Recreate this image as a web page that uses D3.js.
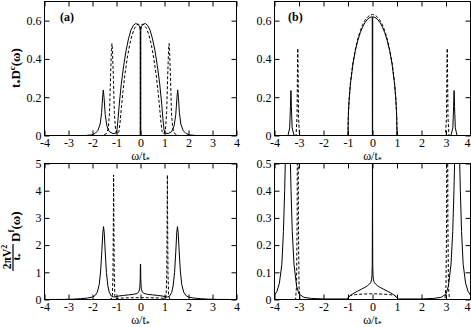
<!DOCTYPE html>
<html>
<head>
<meta charset="utf-8">
<script src="https://cdn.jsdelivr.net/npm/d3@7"></script>
<style>
body{margin:0;background:#fff;}
svg{display:block;font-family:"Liberation Serif","Times New Roman",serif;}
.tick line{stroke:#000;}
</style>
</head>
<body>
<div id="chart"></div>
<script>
// tick values / labels
var xTicks = [-4,-3,-2,-1,0,1,2,3,4];
var xTickLabels = ["-4","-3","-2","-1","0","1","2","3","4"];
var yTicksC = [0,0.2,0.4,0.6];
var yTicksCLabels = ["0","0.2","0.4","0.6"];
var yTicksF = [0,1,2,3,4,5];
var yTicksFLabels = ["0","1","2","3","4","5"];
var yTicksFz = [0,0.1,0.2,0.3,0.4,0.5];
var yTicksFzLabels = ["0","0.1","0.2","0.3","0.4","0.5"];

// (a) c-electron spectral function  [omega/t*, value]
var aSolidC = [[-4,0],[-2.3,0],[-2.05,0.003],[-1.9,0.01],[-1.78,0.025],[-1.68,0.06],[-1.62,0.12],[-1.58,0.2],[-1.55,0.238],[-1.52,0.2],[-1.47,0.11],[-1.4,0.05],[-1.3,0.02],[-1.15,0.01],[-1.03,0.012],[-0.98,0.03],[-0.94,0.08],[-0.88,0.17],[-0.8,0.27],[-0.7,0.365],[-0.6,0.445],[-0.5,0.505],[-0.4,0.55],[-0.3,0.575],[-0.2,0.585],[-0.1,0.58],[-0.04,0.57],[-0.01,0.55],[-0.01,0],
  [0.01,0],[0.01,0.55],[0.04,0.57],[0.1,0.58],[0.2,0.585],[0.3,0.575],[0.4,0.55],[0.5,0.505],[0.6,0.445],[0.7,0.365],[0.8,0.27],[0.88,0.17],[0.94,0.08],[0.98,0.03],[1.03,0.012],[1.15,0.01],[1.3,0.02],[1.4,0.05],[1.47,0.11],[1.52,0.2],[1.55,0.238],[1.58,0.2],[1.62,0.12],[1.68,0.06],[1.78,0.025],[1.9,0.01],[2.05,0.003],[2.3,0],[4,0]];
var aDashC = [[-4,0],[-1.6,0],[-1.42,0.01],[-1.34,0.04],[-1.29,0.12],[-1.25,0.3],[-1.21,0.45],[-1.19,0.48],[-1.17,0.45],[-1.13,0.3],[-1.09,0.12],[-1.04,0.03],[-0.97,0.008],[-0.9,0.02],[-0.85,0.07],[-0.8,0.14],[-0.73,0.23],[-0.65,0.32],[-0.55,0.405],[-0.45,0.475],[-0.35,0.525],[-0.25,0.56],[-0.15,0.578],[-0.08,0.582],[-0.03,0.575],[-0.005,0.56],[-0.005,0],
  [0.005,0],[0.005,0.56],[0.03,0.575],[0.08,0.582],[0.15,0.578],[0.25,0.56],[0.35,0.525],[0.45,0.475],[0.55,0.405],[0.65,0.32],[0.73,0.23],[0.8,0.14],[0.85,0.07],[0.9,0.02],[0.97,0.008],[1.04,0.03],[1.09,0.12],[1.13,0.3],[1.17,0.45],[1.19,0.48],[1.21,0.45],[1.25,0.3],[1.29,0.12],[1.34,0.04],[1.42,0.01],[1.6,0],[4,0]];

// (a) f-electron spectral function
var aSolidF = [[-4,0],[-3.2,0.003],[-2.8,0.012],[-2.5,0.03],[-2.2,0.055],[-2.0,0.09],[-1.9,0.14],[-1.8,0.27],[-1.72,0.55],[-1.66,1.05],[-1.61,1.8],[-1.57,2.45],[-1.54,2.68],[-1.51,2.45],[-1.47,1.75],[-1.42,1.0],[-1.36,0.5],[-1.3,0.26],[-1.22,0.13],[-1.12,0.09],[-1.02,0.1],[-0.9,0.13],[-0.7,0.15],[-0.5,0.17],[-0.3,0.19],[-0.15,0.22],[-0.07,0.28],[-0.03,0.42],[-0.012,0.75],[-0.004,1.3],
  [0.004,1.3],[0.012,0.75],[0.03,0.42],[0.07,0.28],[0.15,0.22],[0.3,0.19],[0.5,0.17],[0.7,0.15],[0.9,0.13],[1.02,0.1],[1.12,0.09],[1.22,0.13],[1.3,0.26],[1.36,0.5],[1.42,1.0],[1.47,1.75],[1.51,2.45],[1.54,2.68],[1.57,2.45],[1.61,1.8],[1.66,1.05],[1.72,0.55],[1.8,0.27],[1.9,0.14],[2.0,0.09],[2.2,0.055],[2.5,0.03],[2.8,0.012],[3.2,0.003],[4,0]];
var aDashF = [[-4,0],[-1.3,0],[-1.22,0.02],[-1.17,0.15],[-1.145,1.0],[-1.13,3.0],[-1.12,4.58],[-1.11,3.0],[-1.095,1.0],[-1.07,0.15],[-1.03,0.03],[-1.0,0.04],[-0.9,0.05],[-0.6,0.06],[-0.3,0.065],[0,0.065],
  [0.3,0.065],[0.6,0.06],[0.9,0.05],[1.0,0.04],[1.03,0.03],[1.07,0.15],[1.095,1.0],[1.11,3.0],[1.12,4.58],[1.13,3.0],[1.145,1.0],[1.17,0.15],[1.22,0.02],[1.3,0],[4,0]];

// (b) c-electron spectral function
var bSolidC = [[-4,0],[-3.45,0],[-3.38,0.04],[-3.35,0.15],[-3.33,0.235],[-3.31,0.15],[-3.28,0.04],[-3.2,0],[-1.0,0],[-0.99,0.088],[-0.98,0.123],[-0.95,0.194],[-0.9,0.27],[-0.8,0.372],[-0.7,0.443],[-0.6,0.496],[-0.5,0.537],[-0.4,0.568],[-0.3,0.591],[-0.2,0.608],[-0.1,0.617],[-0.01,0.62],[-0.005,0],
  [0.005,0],[0.01,0.62],[0.1,0.617],[0.2,0.608],[0.3,0.591],[0.4,0.568],[0.5,0.537],[0.6,0.496],[0.7,0.443],[0.8,0.372],[0.9,0.27],[0.95,0.194],[0.98,0.123],[0.99,0.088],[1.0,0],[3.2,0],[3.28,0.04],[3.31,0.15],[3.33,0.235],[3.35,0.15],[3.38,0.04],[3.45,0],[4,0]];
var bDashC = [[-4,0],[-3.12,0],[-3.08,0.1],[-3.06,0.38],[-3.05,0.455],[-3.04,0.38],[-3.02,0.1],[-2.98,0],[-1.0,0],[-0.99,0.089],[-0.98,0.126],[-0.95,0.197],[-0.9,0.276],[-0.8,0.379],[-0.7,0.451],[-0.6,0.506],[-0.5,0.547],[-0.4,0.58],[-0.3,0.603],[-0.2,0.619],[-0.1,0.629],[0,0.632],
  [0.1,0.629],[0.2,0.619],[0.3,0.603],[0.4,0.58],[0.5,0.547],[0.6,0.506],[0.7,0.451],[0.8,0.379],[0.9,0.276],[0.95,0.197],[0.98,0.126],[0.99,0.089],[1.0,0],[2.98,0],[3.02,0.1],[3.04,0.38],[3.05,0.455],[3.06,0.38],[3.08,0.1],[3.12,0],[4,0]];

// (b) f-electron spectral function (zoomed y range, peaks run off the top)
var bSolidF = [[-4,0.016],[-3.9,0.03],[-3.8,0.06],[-3.7,0.13],[-3.635,0.25],[-3.585,0.4],[-3.56,0.5],[-3.525,0.9],[-3.455,3],[-3.385,0.9],[-3.35,0.5],[-3.325,0.4],[-3.275,0.25],[-3.205,0.13],[-3.1,0.05],[-3.0,0.02],[-2.8,0.008],[-2.5,0.004],[-2.0,0.002],[-1.05,0.002],[-1.0,0.006],[-0.9,0.015],[-0.75,0.024],[-0.6,0.031],[-0.45,0.038],[-0.3,0.045],[-0.2,0.051],[-0.12,0.057],[-0.07,0.063],[-0.04,0.072],[-0.02,0.09],[-0.01,0.13],[-0.004,0.3],[0,0.8],
  [0.004,0.3],[0.01,0.13],[0.02,0.09],[0.04,0.072],[0.07,0.063],[0.12,0.057],[0.2,0.051],[0.3,0.045],[0.45,0.038],[0.6,0.031],[0.75,0.024],[0.9,0.015],[1.0,0.006],[1.05,0.002],[2.0,0.002],[2.5,0.004],[2.8,0.008],[3.0,0.02],[3.1,0.05],[3.205,0.13],[3.275,0.25],[3.325,0.4],[3.35,0.5],[3.385,0.9],[3.455,3],[3.525,0.9],[3.56,0.5],[3.585,0.4],[3.635,0.25],[3.7,0.13],[3.8,0.06],[3.9,0.03],[4,0.016]];
var bDashF = [[-4,0],[-3.14,0],[-3.1,0.05],[-3.075,0.3],[-3.06,1],[-3.05,3],[-3.04,1],[-3.025,0.3],[-3.0,0.05],[-2.96,0],[-1.0,0],[-0.97,0.01],[-0.9,0.015],[-0.7,0.018],[-0.4,0.02],[0,0.021],
  [0.4,0.02],[0.7,0.018],[0.9,0.015],[0.97,0.01],[1.0,0],[2.96,0],[3.0,0.05],[3.025,0.3],[3.04,1],[3.05,3],[3.06,1],[3.075,0.3],[3.1,0.05],[3.14,0],[4,0]];

var W = 471, H = 327;
var FONT = '"Liberation Serif","Times New Roman",serif';
var svg = d3.select('#chart').append('svg').attr('width', W).attr('height', H);

function panel(box, yMax, yTicks, yLabels, solid, dashed, n){
	var x = d3.scaleLinear().domain([-4,4]).range([box.l, box.r]);
	var y = d3.scaleLinear().domain([0,yMax]).range([box.b, box.t]);

	svg.append('clipPath').attr('id', 'clip' + n)
	  .append('rect')
		.attr('x', box.l).attr('y', box.t)
		.attr('width', box.r - box.l).attr('height', box.b - box.t);

	var line = d3.line()
		.x(function(d){ return x(d[0]); })
		.y(function(d){ return y(d[1]); });

	var curves = svg.append('g').attr('clip-path', 'url(#clip' + n + ')');
	curves.append('path').datum(dashed)
		.attr('d', line)
		.attr('fill', 'none')
		.attr('stroke', '#000')
		.attr('stroke-width', 1)
		.attr('stroke-dasharray', '3,2');
	curves.append('path').datum(solid)
		.attr('d', line)
		.attr('fill', 'none')
		.attr('stroke', '#000')
		.attr('stroke-width', 1);

	// ticks point inward on all four sides
	var gx = svg.append('g').attr('transform', 'translate(0,' + box.b + ')')
		.call(d3.axisBottom(x).tickValues(xTicks)
			.tickFormat(function(d,i){ return xTickLabels[i]; })
			.tickSize(-5).tickPadding(3));
	var gy = svg.append('g').attr('transform', 'translate(' + box.l + ',0)')
		.call(d3.axisLeft(y).tickValues(yTicks)
			.tickFormat(function(d,i){ return yLabels[i]; })
			.tickSize(-5).tickPadding(3));
	var gt = svg.append('g').attr('transform', 'translate(0,' + box.t + ')')
		.call(d3.axisTop(x).tickValues(xTicks).tickFormat('').tickSize(-5));
	var gr = svg.append('g').attr('transform', 'translate(' + box.r + ',0)')
		.call(d3.axisRight(y).tickValues(yTicks).tickFormat('').tickSize(-5));
	[gx, gy, gt, gr].forEach(function(g){
		g.attr('font-family', FONT).attr('font-size', 12);
		g.select('.domain').remove();
		g.selectAll('text').attr('fill', '#000');
	});
	// the last label on the right panels sits against the page edge
	if (box.r > W - 5) {
		gx.selectAll('.tick text').filter(function(d){ return d === 4; })
			.attr('text-anchor', 'end').attr('x', -0.5);
	}

	svg.append('rect')
		.attr('x', box.l).attr('y', box.t)
		.attr('width', box.r - box.l).attr('height', box.b - box.t)
		.attr('fill', 'none').attr('stroke', '#000').attr('stroke-width', 1);

	// x axis title
	var xt = svg.append('text')
		.attr('x', (box.l + box.r) / 2).attr('y', box.b + 24)
		.attr('text-anchor', 'middle')
		.style('font-size', '12px');
	xt.append('tspan').text('ω/t');
	xt.append('tspan').attr('dy', 3).style('font-size', '8px').text('*');
}

var boxA = {l:44.5, r:236.5, t:1.5, b:135.5};
var boxB = {l:274.5, r:470.5, t:1.5, b:135.5};
var boxC = {l:44.5, r:236.5, t:163.5, b:299.5};
var boxD = {l:274.5, r:470.5, t:163.5, b:299.5};

panel(boxA, 0.7, yTicksC, yTicksCLabels, aSolidC, aDashC, 0);
panel(boxB, 0.7, yTicksC, yTicksCLabels, bSolidC, bDashC, 1);
panel(boxC, 5, yTicksF, yTicksFLabels, aSolidF, aDashF, 2);
panel(boxD, 0.5, yTicksFz, yTicksFzLabels, bSolidF, bDashF, 3);

// panel tags
svg.append('text').attr('x', 60).attr('y', 21).style('font-weight', 'bold').style('font-size', '12px').text('(a)');
svg.append('text').attr('x', 288).attr('y', 21).style('font-weight', 'bold').style('font-size', '12px').text('(b)');

// y label top: t* D^c(w)
var yl1 = svg.append('text')
	.attr('transform', 'translate(20,68) rotate(-90)')
	.attr('text-anchor', 'middle')
	.style('font-weight', 'bold').style('font-size', '13px');
yl1.append('tspan').text('t');
yl1.append('tspan').attr('dy', 3).style('font-size', '8px').text('*');
yl1.append('tspan').attr('dy', -3).text('D');
yl1.append('tspan').attr('dy', -5).style('font-size', '9px').text('c');
yl1.append('tspan').attr('dy', 5).text('(ω)');

// y label bottom: (2 pi V^2 / t*) D^f(w)
var yl2 = svg.append('g').attr('transform', 'translate(20,237) rotate(-90)')
	.style('font-weight', 'bold');
var num = yl2.append('text').attr('x', -20).attr('y', -9).attr('text-anchor', 'middle').style('font-size', '11.5px');
num.append('tspan').text('2πV');
num.append('tspan').attr('dy', -4).style('font-size', '8px').text('2');
yl2.append('line').attr('x1', -34).attr('x2', -7).attr('y1', -7).attr('y2', -7)
	.attr('stroke', '#000').attr('stroke-width', 1.2);
var den = yl2.append('text').attr('x', -20).attr('y', 0).attr('text-anchor', 'middle').style('font-size', '11px');
den.append('tspan').text('t');
den.append('tspan').attr('dy', 2).style('font-size', '7px').text('*');
var dl = yl2.append('text').attr('x', -5).attr('y', 0).style('font-size', '13px');
dl.append('tspan').text('D');
dl.append('tspan').attr('dy', -6).style('font-size', '9px').text('f');
dl.append('tspan').attr('dy', 6).text('(ω)');
</script>
</body>
</html>
